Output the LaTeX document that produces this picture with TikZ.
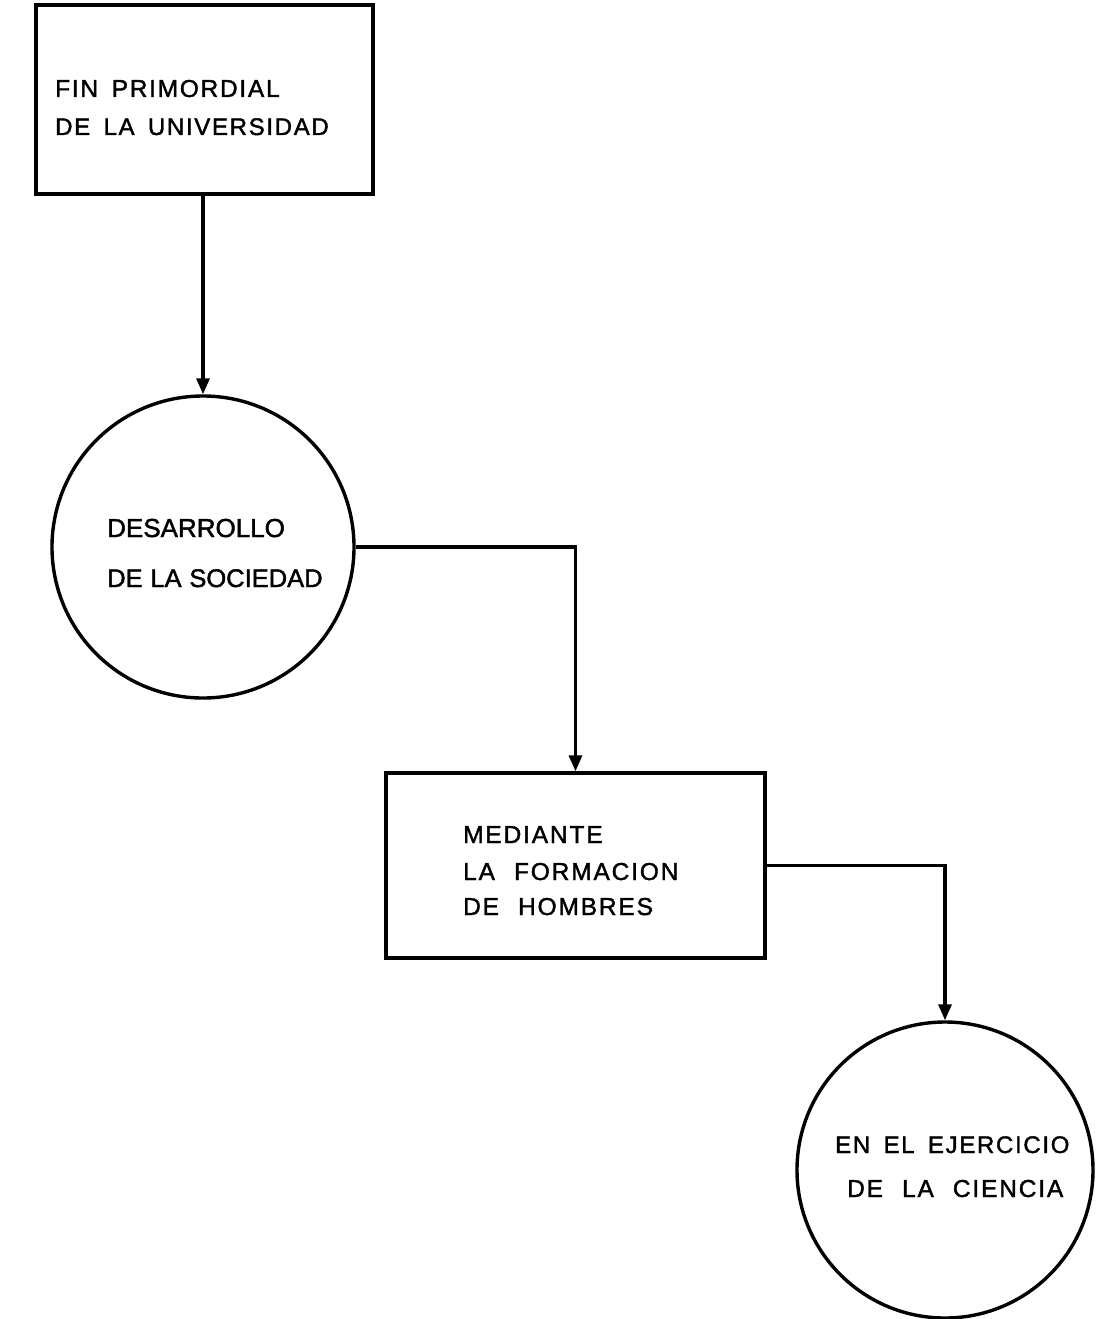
\documentclass[tikz,border=0pt]{standalone}
\usepackage{fontspec}
\setmainfont{Liberation Sans}
\newfontfamily\lblfont[LetterSpace=7,WordSpace=1.6,FakeBold=1.6]{Liberation Sans}
\newfontfamily\lblfontW[LetterSpace=7.5,WordSpace=2.2,FakeBold=1.6]{Liberation Sans}
\newfontfamily\lblfontB[LetterSpace=0,WordSpace=1.1,FakeBold=1.6]{Liberation Sans}
\usetikzlibrary{arrows.meta}
\begin{document}
\begin{tikzpicture}[x=1pt,y=-1pt,
  shp/.style={draw=black,line width=3.4pt,inner sep=0pt},
  boxnode/.style={shp,rectangle},
  circnode/.style={shp,circle},
  txt/.style={anchor=base west,inner sep=0pt,text=black},
  conn/.style={line width=3.2pt,-{Triangle[width=13pt,length=16pt]}}]
\useasboundingbox (0,0) rectangle (1098,1319);
\fill[white] (0,0) rectangle (1098,1319);
% shapes
\node[boxnode,minimum width=337pt,minimum height=189pt] (box1) at (204.5,99.5) {};
\node[circnode,minimum size=302pt] (c1) at (203,547) {};
\node[boxnode,minimum width=379pt,minimum height=185pt] (box2) at (575.5,865.5) {};
\node[circnode,minimum size=296pt] (c2) at (945,1170) {};
% texts
\node[txt,font=\lblfont\fontsize{24.5}{28}\selectfont] (t1a) at (55,97) {FIN PRIMORDIAL};
\node[txt,font=\lblfont\fontsize{24}{28}\selectfont] (t1b) at (55,135) {DE LA UNIVERSIDAD};
\node[txt,font=\lblfontB\fontsize{26}{30}\selectfont] (t2a) at (107,537) {DESARROLLO};
\node[txt,font=\lblfontB\fontsize{25.5}{30}\selectfont] (t2b) at (107,587) {DE LA SOCIEDAD};
\node[txt,font=\lblfontW\fontsize{24.5}{28}\selectfont] (t3a) at (463,843) {MEDIANTE};
\node[txt,font=\lblfontW\fontsize{24.5}{28}\selectfont] (t3b) at (463,880) {LA FORMACION};
\node[txt,font=\lblfontW\fontsize{24.5}{28}\selectfont] (t3c) at (463,915) {DE HOMBRES};
\node[txt,font=\lblfont\fontsize{24}{28}\selectfont] (t4a) at (835,1153) {EN EL EJERCICIO};
\node[txt,font=\lblfontW\fontsize{24.5}{28}\selectfont] (t4b) at (847,1197) {DE LA CIENCIA};
% connectors
\draw[conn] (c1.north |- box1.south) -- (c1.north);
\draw[conn] (c1.east) -| (box2.north);
\draw[conn] (box2.east) -| (c2.north);
\end{tikzpicture}
\end{document}
